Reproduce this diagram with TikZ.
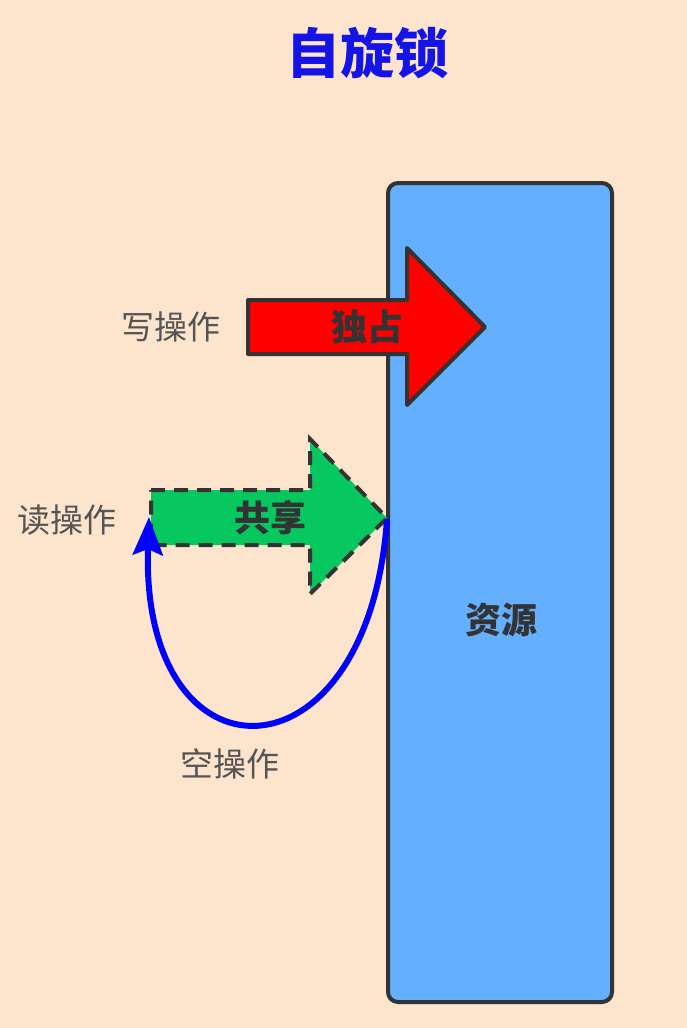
\documentclass[tikz,border=0pt]{standalone}
\usepackage{fontspec}
\newfontfamily\cjk{Noto Sans CJK SC}
\usetikzlibrary{arrows.meta}
\definecolor{bg}{HTML}{FDE4CC}
\definecolor{res}{HTML}{64AFFE}
\definecolor{edge}{HTML}{333333}
\definecolor{lbl}{HTML}{555555}
\definecolor{grn}{HTML}{06C85E}
\definecolor{ttl}{HTML}{1414E6}
\tikzset{
  lab/.style={font=\cjk\fontsize{33}{33}\selectfont, text=lbl, inner sep=0pt},
  boldlab/.style={font=\cjk\bfseries\fontsize{36}{36}\selectfont, text=edge, inner sep=0pt},
}
\begin{document}
\begin{tikzpicture}[x=1pt,y=-1pt]
\fill[bg] (0,0) rectangle (687,1028);
\useasboundingbox (0,0) rectangle (687,1028);
% resource box
\draw[edge, line width=4pt, fill=res, rounded corners=10pt] (388,183) rectangle (612,1002);
\node[boldlab] (res) at (501,620) {资源};
% title
\node[font=\cjk\bfseries\fontsize{54}{54}\selectfont, text=ttl, inner sep=0pt] (title) at (367,53) {自旋锁};
% red arrow
\draw[edge, line width=4pt, fill=red, line join=round]
  (248,300) -- (407,300) -- (407,248) -- (485,327) -- (407,405) -- (407,354) -- (248,354) -- cycle;
\node[boldlab] (excl) at (367,327) {独占};
\node[lab] (write) at (171,327) {写操作};
% green arrow
\draw[edge, line width=4pt, fill=grn, dash pattern=on 14pt off 9pt, line join=miter]
  (151,490) -- (310,490) -- (310,439) -- (387,518) -- (310,594) -- (310,545) -- (151,545) -- cycle;
\coordinate (gtip) at (387,519);
\coordinate (gtail) at (149,517);
\node[boldlab] (share) at (270,518) {共享};
\node[lab] (read) at (67,520) {读操作};
% blue loop
\draw[blue, line width=6pt, -{Stealth[length=38pt,width=30pt,inset=6pt]}]
  (gtip) .. controls (368,790) and (140,790) .. (gtail);
\node[lab] (empty) at (230,764) {空操作};
\end{tikzpicture}
\end{document}
